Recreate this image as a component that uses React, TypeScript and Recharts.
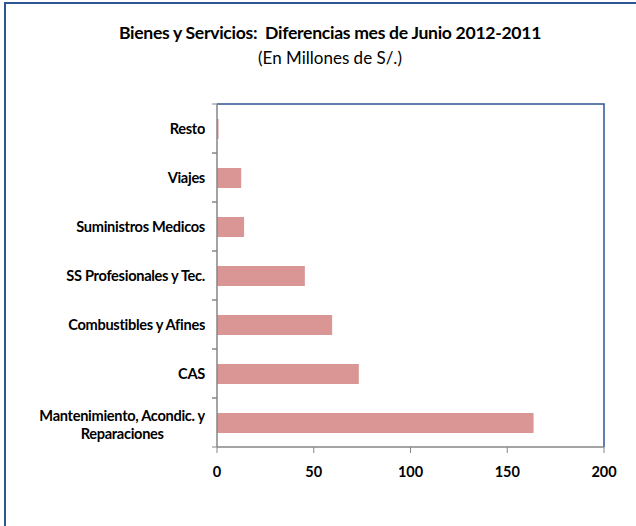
import { BarChart, Bar, XAxis, YAxis, ReferenceArea } from "recharts";

const categories = [
  "Resto",
  "Viajes",
  "Suministros Medicos",
  "SS Profesionales y Tec.",
  "Combustibles y Afines",
  "CAS",
  "Mantenimiento, Acondic. y\nReparaciones",
];
const values = [0.8, 12.5, 14.0, 45.4, 59.5, 73.3, 163.6];
const xTicks = [0, 50, 100, 150, 200];

const data = categories.map((name, i) => ({ name, value: values[i] }));

const FONT = "Lato, 'Open Sans', sans-serif";
const GRAY = "#868686";
const BLUE = "#2c5592";
const BAND = (447 - 104) / categories.length;
// plot box is 387 x 343: dash only the top + right sides of the frame
const HALF_PERIM = 387 + 343;

function CatTick(props: any) {
  const { x, y, payload } = props;
  const lines = String(payload.value).split("\n");
  return (
    <g>
      <line x1={x - 5} x2={x} y1={y - BAND / 2} y2={y - BAND / 2} stroke={GRAY} />
      <line x1={x - 5} x2={x} y1={y + BAND / 2} y2={y + BAND / 2} stroke={GRAY} />
      <foreignObject x={x - 232} y={y - 22} width={220} height={44}>
        <div
          style={{
            display: "flex",
            justifyContent: "flex-end",
            alignItems: "center",
            height: 44,
            fontFamily: FONT,
            fontWeight: 700,
            fontSize: 14.6,
            lineHeight: "18px",
            color: "#000",
            letterSpacing: "-0.3px",
            whiteSpace: "nowrap",
          }}
        >
          <div style={{ textAlign: "center", marginTop: lines.length > 1 ? 4 : 0 }}>
            {lines.map((l, i) => (
              <div key={i}>{l}</div>
            ))}
          </div>
        </div>
      </foreignObject>
    </g>
  );
}

export default function App() {
  return (
    <div style={{ position: "absolute", left: 0, top: 0, width: 636, height: 526, background: "#fff", overflow: "hidden" }}>
      <div
        style={{
          position: "absolute",
          left: 4,
          top: 2,
          width: 700,
          height: 600,
          borderLeft: `2px solid ${BLUE}`,
          borderTop: `2px solid ${BLUE}`,
        }}
      />
      <div
        style={{
          position: "absolute",
          left: 0,
          width: 660,
          top: 22,
          textAlign: "center",
          fontFamily: FONT,
          fontWeight: 700,
          fontSize: 17.6,
          color: "#000",
          letterSpacing: "-0.3px",
          whiteSpace: "pre",
        }}
      >
        {"Bienes y Servicios:  Diferencias mes de Junio 2012-2011"}
      </div>
      <div
        style={{
          position: "absolute",
          left: 0,
          width: 660,
          top: 47,
          textAlign: "center",
          fontFamily: FONT,
          fontSize: 17,
          color: "#000",
        }}
      >
        (En Millones de S/.)
      </div>
      <div style={{ position: "absolute", left: 0, top: 0 }}>
        <BarChart
          width={636}
          height={526}
          data={data}
          layout="vertical"
          margin={{ top: 104, right: 32, bottom: 0, left: 0 }}
          barCategoryGap={0}
        >
          <ReferenceArea
            x1={0}
            x2={200}
            fill="none"
            stroke={BLUE}
            strokeWidth={1.5}
            strokeDasharray={`${HALF_PERIM} ${HALF_PERIM}`}
            ifOverflow="visible"
          />
          <XAxis
            type="number"
            domain={[0, 200]}
            ticks={xTicks}
            height={79}
            axisLine={{ stroke: GRAY, strokeWidth: 1.5 }}
            tickLine={{ stroke: GRAY }}
            tickSize={6}
            tickMargin={14}
            tick={{ fill: "#000", fontSize: 14.5, fontWeight: 700, fontFamily: FONT }}
          />
          <YAxis
            type="category"
            dataKey="name"
            width={217}
            axisLine={{ stroke: GRAY, strokeWidth: 1.5 }}
            tickLine={false}
            tickSize={0}
            tickMargin={0}
            tick={<CatTick />}
            interval={0}
          />
          <Bar dataKey="value" fill="#d99694" barSize={20} isAnimationActive={false} />
        </BarChart>
      </div>
    </div>
  );
}
